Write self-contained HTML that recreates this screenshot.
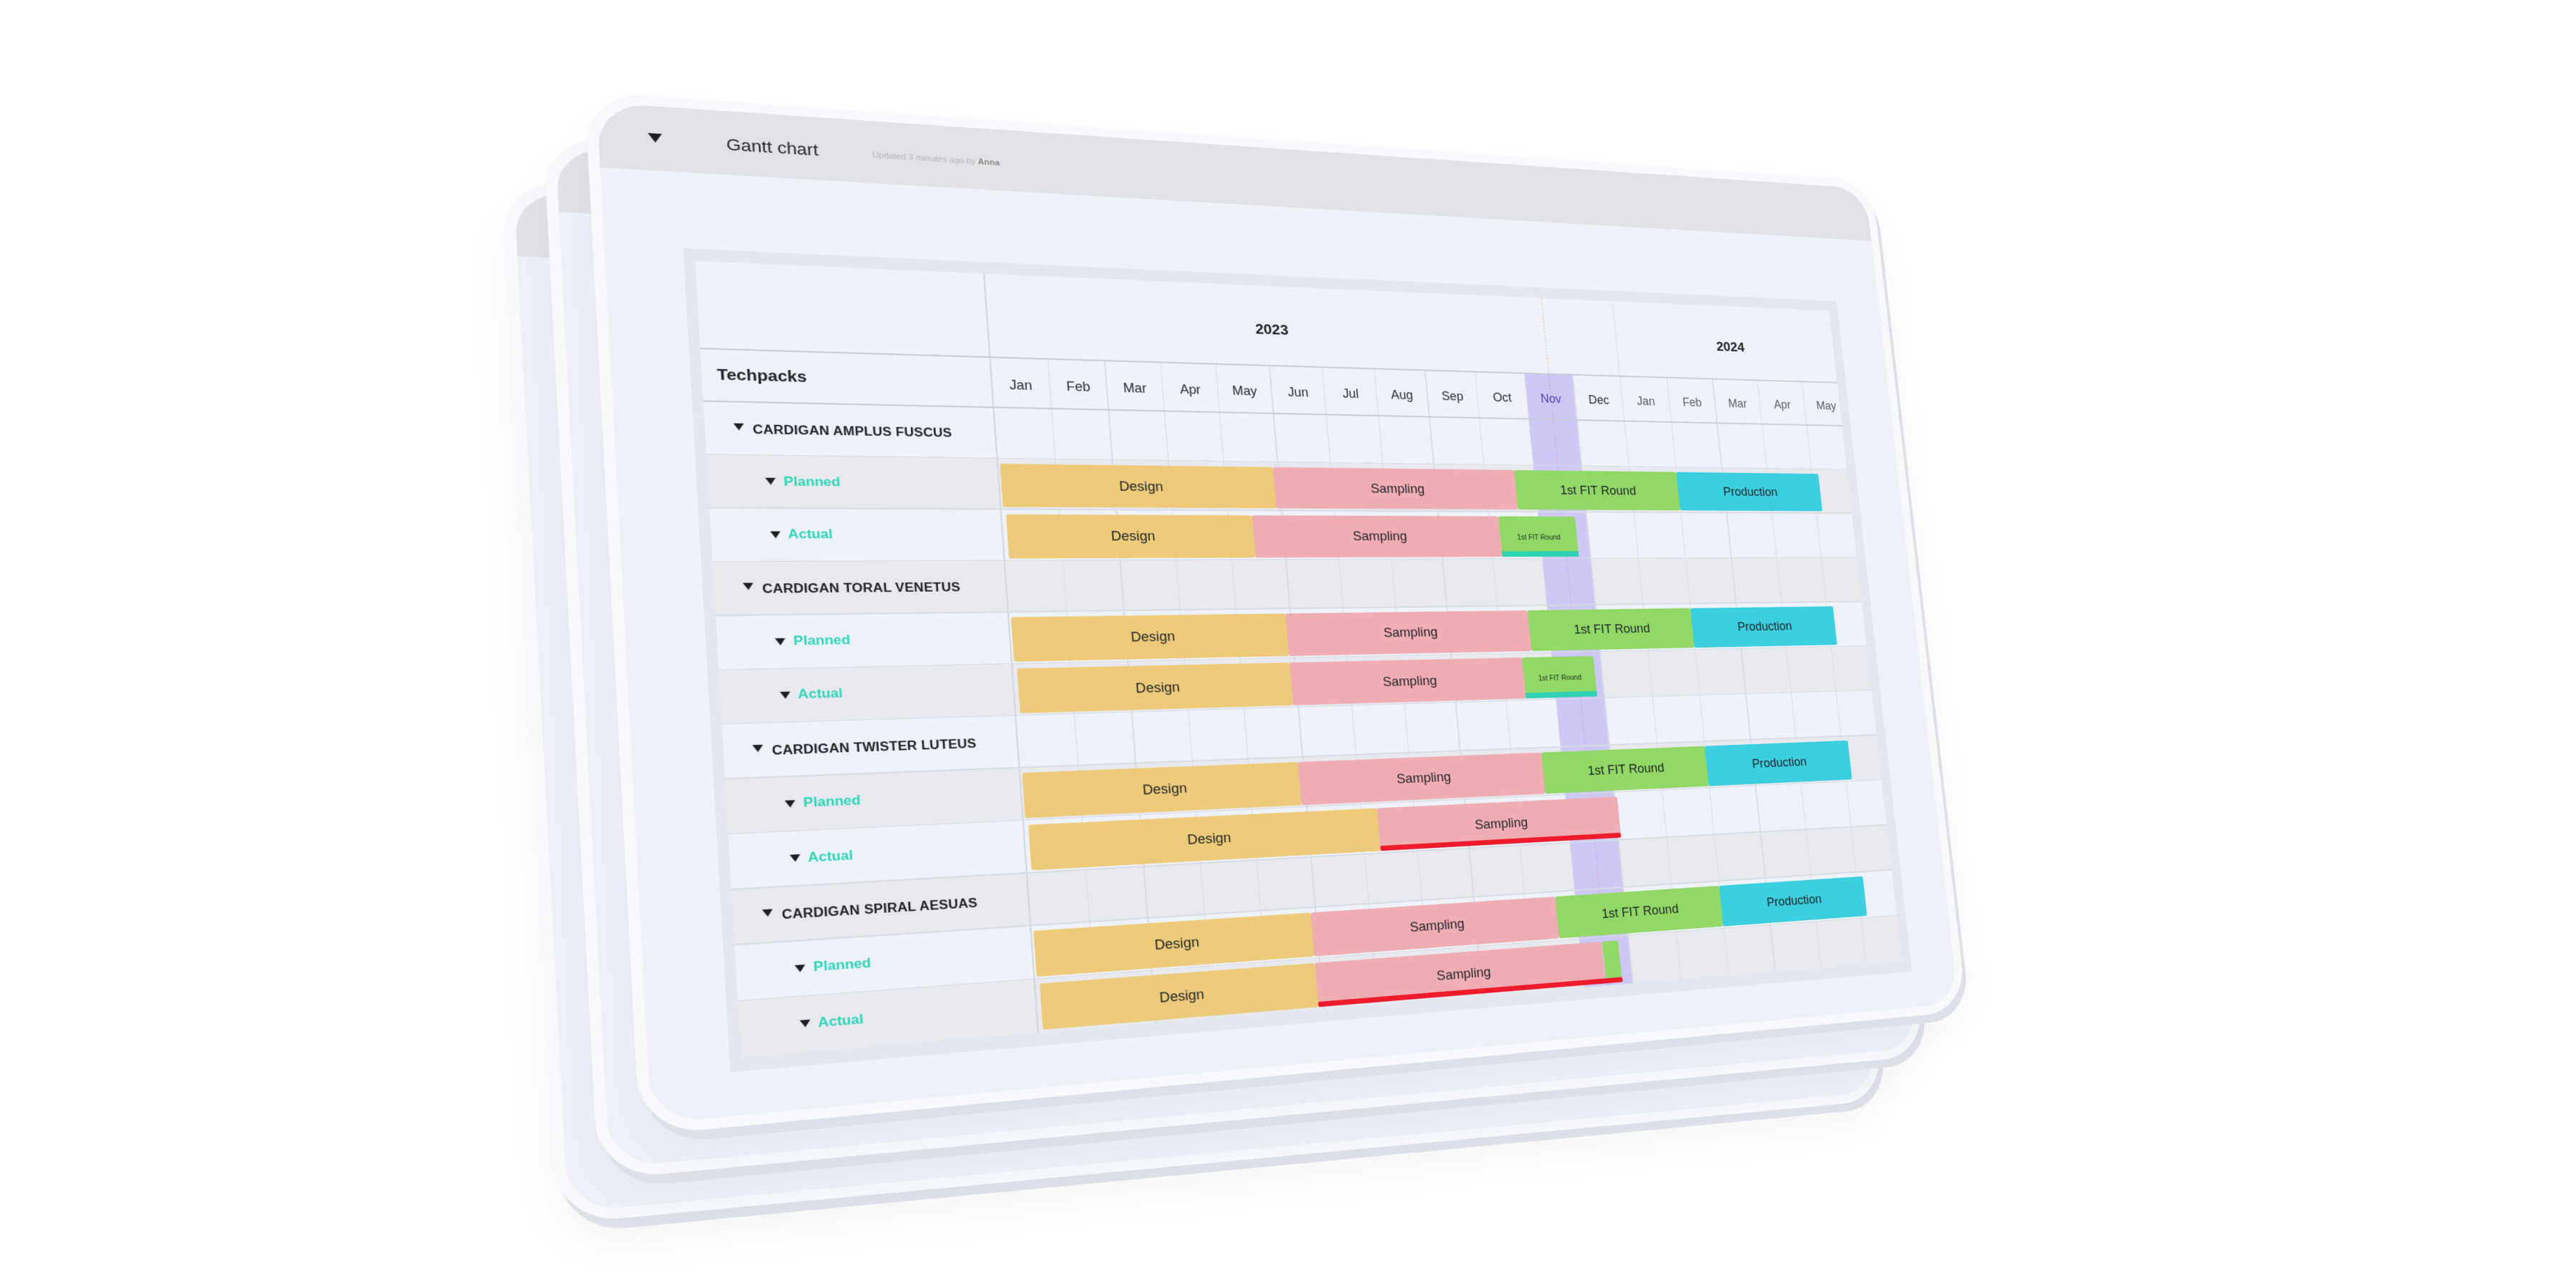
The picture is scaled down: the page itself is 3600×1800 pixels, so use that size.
<!DOCTYPE html>
<html><head><meta charset="utf-8">
<style>
html,body{margin:0;padding:0;width:3600px;height:1800px;background:#fff;overflow:hidden;}
#root{position:absolute;left:0;top:0;width:3600px;height:1800px;}
.a{position:absolute;box-sizing:border-box;}
.t{position:absolute;white-space:nowrap;line-height:1;font-family:"Liberation Sans",sans-serif;}
</style></head>
<body><div id="root"></div>
<script>
const W=1800,H=1300;
function adj(m){return [m[4]*m[8]-m[5]*m[7],m[2]*m[7]-m[1]*m[8],m[1]*m[5]-m[2]*m[4],m[5]*m[6]-m[3]*m[8],m[0]*m[8]-m[2]*m[6],m[2]*m[3]-m[0]*m[5],m[3]*m[7]-m[4]*m[6],m[1]*m[6]-m[0]*m[7],m[0]*m[4]-m[1]*m[3]];}
function mm(a,b){const c=[];for(let i=0;i<3;i++)for(let j=0;j<3;j++){let s=0;for(let k=0;k<3;k++)s+=a[3*i+k]*b[3*k+j];c[3*i+j]=s;}return c;}
function mv(m,v){return [m[0]*v[0]+m[1]*v[1]+m[2]*v[2],m[3]*v[0]+m[4]*v[1]+m[5]*v[2],m[6]*v[0]+m[7]*v[1]+m[8]*v[2]];}
function basis(p){const m=[p[0][0],p[1][0],p[2][0],p[0][1],p[1][1],p[2][1],1,1,1];const v=mv(adj(m),[p[3][0],p[3][1],1]);return mm(m,[v[0],0,0,0,v[1],0,0,0,v[2]]);}
const src=[[0,0],[W,0],[0,H],[W,H]];
const dst=[[817,128],[2616,253],[894,1587],[2749,1413]];
let t=mm(basis(dst),adj(basis(src)));t=t.map(x=>x/t[8]);
const M=`matrix3d(${t[0]},${t[3]},0,${t[6]},${t[1]},${t[4]},0,${t[7]},0,0,1,0,${t[2]},${t[5]},0,${t[8]})`;
const ti=adj(t);
function inv(x,y){const r=mv(ti,[x,y,1]);return [r[0]/r[2],r[1]/r[2]];}
const root=document.getElementById('root');
function box(p,x,y,w,h,st){const d=document.createElement('div');d.className='a';d.style.cssText=`left:${x}px;top:${y}px;width:${w}px;height:${h}px;`+(st||'');p.appendChild(d);return d;}
function txt(p,s,x,y,size,st,center){const d=document.createElement('div');d.className='t';d.innerHTML=s;d.style.cssText=`left:${x}px;top:${y}px;font-size:${size}px;transform:translate(${center?'-50%':'0'},-50%);`+(st||'');p.appendChild(d);return d;}
function tri(p,x,y,s){return box(p,x-s/2,y-s*0.35,0,0,`border-left:${s/2}px solid transparent;border-right:${s/2}px solid transparent;border-top:${s*0.75}px solid #1d1f24;`);}
const hb=(inv(859,235)[1]+inv(2625,337)[1])/2;
function panel(dx,dy,content){
  const p=document.createElement('div');p.className='a';
  p.style.cssText=`left:0;top:0;width:${W}px;height:${H}px;transform-origin:0 0;transform:translate(${dx}px,${dy}px) ${M};border-radius:70px;background:#edf1f8;box-shadow:5px 12px 0 #dde0e8, 0 30px 50px rgba(60,70,90,0.05);overflow:visible;`;
  root.appendChild(p);
  const clip=box(p,0,0,W,H,'border-radius:70px;overflow:hidden;');
  box(clip,0,0,W,hb,'background:#e1e2e5;');
  box(clip,0,0,W,H,'border:13px solid #f7f9fd;border-radius:70px;');
  if(content) build(clip);
}
function avg(a,b){return (a+b)/2;}
function build(p){
  let q=inv(916,193);tri(p,q[0],q[1],17);
  q=inv(1015,202);txt(p,'Gantt chart',q[0],q[1],22,'color:#25272b;');
  q=inv(1219,217);txt(p,'Updated 3 minutes ago by <b style="color:#888">Anna</b>',q[0],q[1],11,'color:#b4b6ba;');
  let a=inv(951,345),b=inv(2568,423),c=inv(2672,1372),d=inv(1022,1480);
  const F={L:avg(a[0],d[0]),T:avg(a[1],b[1]),R:avg(b[0],c[0]),B:avg(c[1],d[1])};
  box(p,F.L,F.T,F.R-F.L,F.B-F.T,'background:#e2e6ee;');
  a=inv(970,362);b=inv(2558,437);c=inv(2658,1357);d=inv(1037,1460);
  const I={L:avg(a[0],d[0]),T:avg(a[1],b[1]),R:avg(b[0],c[0]),B:avg(c[1],d[1])};
  const tb=box(p,I.L,I.T,I.R-I.L,I.B-I.T,'background:#edf1f8;overflow:hidden;');
  const X=u=>u-I.L, Y=v=>v-I.T;
  const yb=Y(avg(inv(977,483)[1],inv(2568,538)[1]));
  const mb=Y(avg(inv(981,555)[1],inv(2575,600)[1]));
  const colL=X(avg(inv(1383,565)[0],inv(1445,1300)[0]));
  const cw=(inv(2522,590)[0]-inv(1385,570)[0])/16;
  const TW=I.R-I.L, TH=I.B-I.T;
  const rh=(TH-mb)/12;
  const mx=m=>colL+m*cw;
  for(let r=0;r<12;r++){box(tb,0,mb+r*rh,TW,rh,`background:${r%2?'#e7e9ee':'#edf1f8'};`);}
  box(tb,mx(10),mb-(mb-yb),cw,TH-yb,'background:#cdc8f6;');
  for(let m=0;m<=17;m++){box(tb,mx(m)-0.75,yb,1.5,TH-yb,'background:#d9dce3;');}
  box(tb,colL-1,0,2,TH,'background:#d4d7de;');
  box(tb,mx(12)-0.75,0,1.5,yb,'background:#d9dce3;');
  box(tb,mx(10.5),0,0,TH,'border-left:1.5px dashed rgba(235,120,130,0.45);');
  box(tb,0,yb-1.2,TW,2.4,'background:#c9ccd3;');
  box(tb,0,mb-1.2,TW,2.4,'background:#c9ccd3;');
  for(let r=1;r<12;r++){box(tb,0,mb+r*rh-0.75,TW,1.5,'background:#d8dbe2;');}
  txt(tb,'Techpacks',X(inv(1002,523)[0]),(yb+mb)/2,rh*0.3,'font-weight:bold;color:#1f2226;');
  q=inv(1777,455);txt(tb,'2023',X(q[0]),yb/2+rh*0.08,rh*0.3,'font-weight:bold;color:#1f2226;',1);
  q=inv(2418,482);txt(tb,'2024',X(q[0]),yb/2+rh*0.1,rh*0.3,'font-weight:bold;color:#1f2226;',1);
  const mn=['Jan','Feb','Mar','Apr','May','Jun','Jul','Aug','Sep','Oct','Nov','Dec','Jan','Feb','Mar','Apr','May'];
  mn.forEach((s,i)=>{txt(tb,s,mx(i+0.5),(yb+mb)/2+rh*0.05,rh*0.26,`color:${i==10?'#4b45b8':(i>11?'#5c5f66':'#2a2d32')};`,1);});
  const groups=['CARDIGAN AMPLUS FUSCUS','CARDIGAN TORAL VENETUS','CARDIGAN TWISTER LUTEUS','CARDIGAN SPIRAL AESUAS'];
  const ga=X(inv(1033,602)[0]),gt=X(inv(1052,602)[0]);
  const pa=X(inv(1077,668)[0]),pt=X(inv(1095,668)[0]);
  const aa=X(inv(1084,742)[0]),at=X(inv(1101,742)[0]);
  const C={D:'#edcb7a',S:'#f0adb4',F:'#92d866',P:'#3bcfe0'};
  const L={D:'Design',S:'Sampling',F:'1st FIT Round',P:'Production'};
  const planned=[['D',0.05,4.9],['S',4.9,9.6],['F',9.6,13.0],['P',13.0,16.15]];
  const actual=[
    [['D',0.08,4.45],['S',4.45,9.2],['F',9.2,10.75,'small']],
    [['D',0.08,4.9],['S',4.9,9.4],['F',9.4,10.85,'small']],
    [['D',0.08,6.3],['S',6.3,11.05,'red']],
    [['D',0.08,4.9],['S',4.9,10.45,'red2'],['F',10.45,10.78,'none']]
  ];
  function bar(r,k,m0,m1,flag){
    const y=mb+r*rh+rh*0.1,h=rh*0.86;
    box(tb,mx(m0),y,mx(m1)-mx(m0),h,`background:${C[k]};border-radius:3px;`);
    if(flag=='none')return;
    if(flag=='small'){
      box(tb,mx(m0),y+h*0.86,mx(m1)-mx(m0),h*0.14,'background:#2fd2b3;');
      txt(tb,L[k],(mx(m0)+mx(m1))/2,y+h*0.55,rh*0.15,'color:#1f2a1a;',1);return;
    }
    txt(tb,L[k],(mx(m0)+mx(m1))/2,y+h*0.5,rh*0.27,'color:#22262b;',1);
  }
  for(let g=0;g<4;g++){
    const r0=g*3;
    tri(tb,ga,mb+r0*rh+rh*0.47,rh*0.19);
    txt(tb,groups[g],gt,mb+r0*rh+rh*0.52,rh*0.24,'color:#1d1f24;font-weight:600;letter-spacing:0.2px;');
    tri(tb,pa,mb+(r0+1)*rh+rh*0.5,rh*0.19);
    txt(tb,'Planned',pt,mb+(r0+1)*rh+rh*0.5,rh*0.25,'color:#2fd6b9;font-weight:bold;');
    tri(tb,aa,mb+(r0+2)*rh+rh*0.5,rh*0.19);
    txt(tb,'Actual',at,mb+(r0+2)*rh+rh*0.5,rh*0.25,'color:#2fd6b9;font-weight:bold;');
    planned.forEach(s=>bar(r0+1,s[0],s[1],s[2]));
    actual[g].forEach(s=>bar(r0+2,s[0],s[1],s[2],s[3]));
    const red=actual[g].find(s=>s[3]&&s[3].startsWith('red'));
    if(red){const y=mb+(r0+2)*rh+rh*0.96-rh*0.11;const e=red[3]=='red2'?10.8:red[2];box(tb,mx(red[1]),y,mx(e)-mx(red[1]),rh*0.11,'background:#ee1c2a;border-radius:2px;');}
  }
}
panel(-116,124,false);
panel(-58,62,false);
panel(0,0,true);
</script>
</body></html>
